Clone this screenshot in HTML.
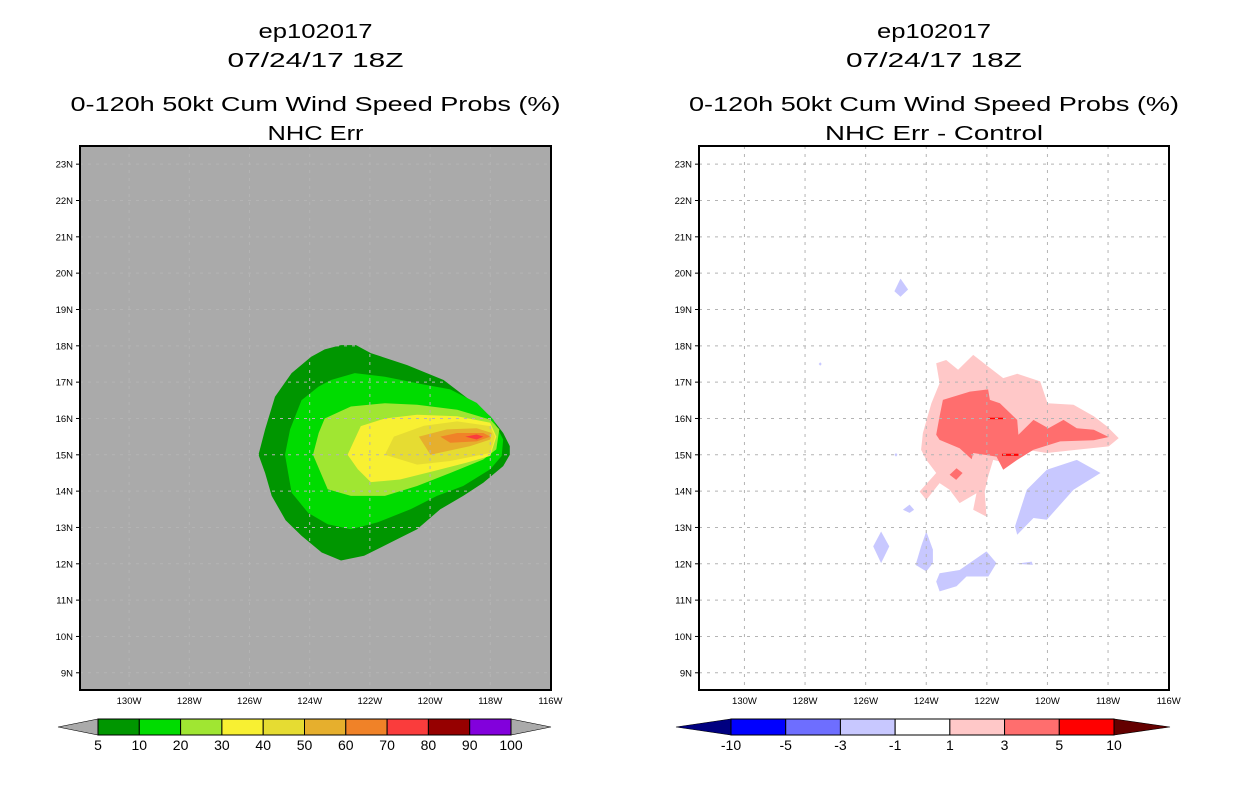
<!DOCTYPE html>
<html><head><meta charset="utf-8"><style>
html,body{margin:0;padding:0;background:#fff}
svg{display:block}
text{font-family:"Liberation Sans",sans-serif;fill:#000}
</style></head><body>
<svg id="fig" width="1236" height="800" viewBox="0 0 1236 800" xmlns="http://www.w3.org/2000/svg"></svg>
<script>
// ---- data ----
const lonTicks=[-130,-128,-126,-124,-122,-120,-118,-116];
const lonTickLabels=["130W","128W","126W","124W","122W","120W","118W","116W"];
const latTicks=[9,10,11,12,13,14,15,16,17,18,19,20,21,22,23];
const latTickLabels=["9N","10N","11N","12N","13N","14N","15N","16N","17N","18N","19N","20N","21N","22N","23N"];
const probLevels=["5","10","20","30","40","50","60","70","80","90","100"];
const probColors=["#009600","#00dc00","#a0e632","#f8f032","#e6dc32","#e6af2d","#f08228","#fa3c3c","#960000","#8200dc"];
const diffLevels=["-10","-5","-3","-1","1","3","5","10"];
const diffColors=["#0000ff","#6e6eff","#c8c8ff","#ffffff","#ffc8c8","#ff6e6e","#ff0000"];
// probability contour outlines [lon,lat]
const prob5=[[-122.96,18.02],[-122.46,18.02],[-121.97,17.8],[-120.76,17.47],[-119.55,17.06],[-118.67,16.5],[-118.0,16.06],[-117.57,15.6],[-117.35,15.24],[-117.35,15.0],[-117.57,14.69],[-118.23,14.23],[-118.9,13.87],[-119.66,13.5],[-120.43,12.95],[-121.3,12.59],[-122.19,12.22],[-122.96,12.09],[-123.6,12.31],[-124.27,12.77],[-124.8,13.2],[-125.26,13.87],[-125.48,14.5],[-125.7,15.0],[-125.48,15.7],[-125.15,16.6],[-124.6,17.25],[-123.95,17.7],[-123.5,17.9]];
const prob10=[[-123.29,17.06],[-122.5,17.25],[-121.5,17.15],[-120.43,16.97],[-119.33,16.8],[-118.45,16.43],[-117.9,15.97],[-117.57,15.42],[-117.62,14.97],[-118.0,14.6],[-118.9,14.14],[-119.77,13.87],[-120.65,13.5],[-121.75,13.14],[-122.63,12.95],[-123.4,13.09],[-124.05,13.4],[-124.6,13.96],[-124.82,15.0],[-124.65,15.7],[-124.27,16.5],[-123.7,16.88]];
const prob20=[[-123.5,16.0],[-122.63,16.33],[-121.5,16.42],[-120.43,16.38],[-119.1,16.24],[-118.0,15.97],[-117.7,15.7],[-117.8,15.15],[-118.23,14.87],[-119.33,14.5],[-120.43,14.14],[-121.5,13.87],[-122.63,13.87],[-123.4,14.05],[-123.89,15.0],[-123.7,15.6]];
const prob30=[[-122.3,15.79],[-121.5,16.0],[-120.43,16.1],[-119.1,16.06],[-118.0,15.88],[-117.8,15.5],[-118.0,14.97],[-118.8,14.78],[-119.9,14.55],[-121.0,14.32],[-121.97,14.25],[-122.4,14.6],[-122.74,15.0]];
const prob40=[[-121.2,15.5],[-120.2,15.8],[-119.1,15.92],[-118.0,15.79],[-117.84,15.5],[-118.0,15.05],[-119.33,14.83],[-120.43,14.73],[-121.5,15.0]];
const prob50=[[-120.37,15.5],[-119.44,15.7],[-118.45,15.73],[-117.95,15.6],[-118.0,15.42],[-118.67,15.24],[-119.99,15.0]];
const prob60=[[-119.66,15.5],[-119.1,15.6],[-118.23,15.6],[-118.0,15.5],[-118.45,15.37],[-119.33,15.33]];
const prob70=[[-118.83,15.5],[-118.45,15.56],[-118.23,15.5],[-118.45,15.42]];
// difference contour outlines
const diffPos1=[[-123.67,17.52],[-123.34,17.61],[-122.95,17.34],[-122.45,17.75],[-121.96,17.43],[-121.46,17.11],[-121.0,17.23],[-120.24,17.02],[-120.0,16.42],[-119.14,16.38],[-118.47,16.06],[-118.03,15.78],[-117.65,15.46],[-117.98,15.23],[-119.03,15.14],[-120.02,15.05],[-120.69,15.14],[-121.35,14.77],[-121.79,14.86],[-121.96,14.4],[-122.07,13.99],[-122.01,13.3],[-122.45,13.49],[-122.34,13.94],[-122.9,13.67],[-123.23,14.04],[-123.56,14.22],[-124.0,13.76],[-124.22,13.99],[-123.67,14.5],[-124.0,14.86],[-124.17,15.14],[-124.11,15.6],[-123.83,16.42],[-123.56,16.97]];
const diffPos3=[[-123.45,16.51],[-122.56,16.74],[-121.96,16.8],[-121.9,16.51],[-121.57,16.42],[-121.0,15.96],[-120.96,15.55],[-120.46,15.96],[-119.97,15.73],[-119.47,15.96],[-119.03,15.73],[-118.47,15.69],[-117.98,15.49],[-118.47,15.4],[-119.58,15.37],[-120.46,15.14],[-121.0,14.86],[-121.46,14.59],[-121.68,14.95],[-122.45,15.05],[-122.5,14.88],[-122.9,15.18],[-123.56,15.41],[-123.67,15.55],[-123.56,16.06]];
const diffPos3b=[[-123.0,14.63],[-122.8,14.5],[-123.01,14.31],[-123.23,14.45]];
const diffPos5a=[[-121.96,16.02],[-121.46,16.02],[-121.46,15.98],[-121.96,15.98]];
const diffPos5b=[[-121.5,15.03],[-120.96,15.03],[-120.96,14.97],[-121.5,14.97]];
const diffNeg1=[[-119.03,14.86],[-118.25,14.5],[-119.14,14.04],[-120.02,13.21],[-120.46,13.26],[-121.0,12.8],[-121.07,13.03],[-120.68,14.04],[-120.02,14.59]];
const diffNeg2=[[-125.49,12.89],[-125.22,12.48],[-125.49,12.02],[-125.75,12.48]];
const diffNeg3=[[-124.0,12.89],[-123.78,12.39],[-123.78,12.02],[-124.0,11.79],[-124.35,11.97],[-124.17,12.48]];
const diffNeg4=[[-123.56,11.74],[-122.9,11.83],[-122.01,12.34],[-121.68,12.02],[-121.95,11.65],[-122.67,11.65],[-123.0,11.38],[-123.56,11.24],[-123.67,11.51]];
const diffNeg5=[[-124.77,13.49],[-124.55,13.63],[-124.4,13.49],[-124.55,13.4]];
const diffNeg6=[[-121.02,12.0],[-120.52,12.06],[-120.48,11.97]];
const diffNeg7=[[-124.85,19.85],[-124.6,19.55],[-124.85,19.35],[-125.05,19.5]];
const diffNeg8=[[-127.5,17.55],[-127.45,17.5],[-127.5,17.45],[-127.55,17.5]];
const diffNeg9=[[-125.0,15.05],[-124.95,15.0],[-125.0,14.95],[-125.05,15.0]];

// ---- drawing ----
const NS="http://www.w3.org/2000/svg";
const svg=document.getElementById('fig');
function mk(tag,attrs,parent){const e=document.createElementNS(NS,tag);for(const k in attrs)e.setAttribute(k,attrs[k]);(parent||svg).appendChild(e);return e;}
function txt(s,x,y,size,anchor,parent,len){const t=mk('text',{x:x,y:y,'font-size':size,'text-anchor':anchor||'middle'},parent);if(len){t.setAttribute('textLength',len);t.setAttribute('lengthAdjust','spacingAndGlyphs');}t.textContent=s;return t;}

function panel(opt){
  const g=mk('g',{});
  
  
  const x0=opt.x0,x1=opt.x1,y0=146,y1=690;
  const lon0=opt.lon0,lonPx=opt.lonPx,lat0=23.5,latPx=36.33;
  const X=lon=>x0+(lon-lon0)*lonPx;
  const Y=lat=>y0+(lat0-lat)*latPx;
  const cx=(x0+x1)/2;
  const titles=[["ep102017",38,20,114],["07/24/17 18Z",67,20,176],["0-120h 50kt Cum Wind Speed Probs (%)",111,20,490],[opt.sub,140,20,opt.subLen]];
  titles.forEach((t,i)=>{const e=txt(t[0],cx,t[1],t[2],'middle',g,t[3]);});
  const bg=mk('rect',{x:x0,y:y0,width:x1-x0,height:y1-y0,fill:opt.bg},g);
  
  
  const clip=mk('clipPath',{id:opt.name+'-clip'},g);mk('rect',{x:x0,y:y0,width:x1-x0,height:y1-y0},clip);
  const pg=mk('g',{'clip-path':'url(#'+opt.name+'-clip)'},g);
  opt.shapes.forEach(s=>{
    const p=mk('polygon',{points:s.pts.map(q=>X(q[0]).toFixed(1)+','+Y(q[1]).toFixed(1)).join(' '),fill:s.c},pg);
    
    
  });
  // grid
  lonTicks.forEach(l=>{if(l>-131&&l<-116.5){const e=mk('line',{x1:X(l),x2:X(l),y1:y0,y2:y1,stroke:'#b4b4b4','stroke-width':1,'stroke-dasharray':'3,5'},pg);}});
  latTicks.forEach(l=>{const e=mk('line',{x1:x0,x2:x1,y1:Y(l),y2:Y(l),stroke:'#b4b4b4','stroke-width':1,'stroke-dasharray':'3,5'},pg);});
  const fr=mk('rect',{x:x0,y:y0,width:x1-x0,height:y1-y0,fill:'none',stroke:'#000','stroke-width':2},g);
  
  
  latTicks.forEach((l,i)=>{mk('line',{x1:x0-4,x2:x0,y1:Y(l),y2:Y(l),stroke:'#000'},g);const e=txt(latTickLabels[i],x0-7,Y(l)+3.5,9.5,'end',g);});
  lonTicks.forEach((l,i)=>{const e=txt(lonTickLabels[i],X(l),y1+14,9.5,'middle',g);});
  // colorbar
  const cb=mk('g',{},g);
  
  
  const n=opt.cbColors.length,bx0=opt.cbX0,bx1=opt.cbX1,by0=719,by1=735,w=(bx1-bx0)/n;
  mk('polygon',{points:`${opt.triL},${(by0+by1)/2} ${bx0},${by0} ${bx0},${by1}`,fill:opt.triCL,stroke:'#000','stroke-width':0.6},cb);
  mk('polygon',{points:`${opt.triR},${(by0+by1)/2} ${bx1},${by0} ${bx1},${by1}`,fill:opt.triCR,stroke:'#000','stroke-width':0.6},cb);
  opt.cbColors.forEach((c,i)=>{const r=mk('rect',{x:bx0+i*w,y:by0,width:w,height:by1-by0,fill:c,stroke:'#000','stroke-width':1},cb);});
  opt.cbLabels.forEach((s,i)=>{const e=txt(s,bx0+i*w,by1+15,14,'middle',cb);});
}

panel({name:'left-panel',x0:80,x1:551,lon0:-131.63,lonPx:30.1,bg:'#aaaaaa',sub:'NHC Err',subLen:96,
  shapes:[{pts:prob5,c:probColors[0],n:'contour-5'},{pts:prob10,c:probColors[1],n:'contour-10'},{pts:prob20,c:probColors[2],n:'contour-20'},{pts:prob30,c:probColors[3],n:'contour-30'},{pts:prob40,c:probColors[4],n:'contour-40'},{pts:prob50,c:probColors[5],n:'contour-50'},{pts:prob60,c:probColors[6],n:'contour-60'},{pts:prob70,c:probColors[7],n:'contour-70'}],
  cbColors:probColors,cbLabels:probLevels,cbX0:98,cbX1:511,triL:58,triR:551,triCL:'#aaaaaa',triCR:'#aaaaaa'});
panel({name:'right-panel',x0:699,x1:1169,lon0:-131.5,lonPx:30.3,bg:'#ffffff',sub:'NHC Err - Control',subLen:218,
  shapes:[{pts:diffPos1,c:diffColors[4],n:'contour-pos1'},{pts:diffPos3,c:diffColors[5],n:'contour-pos3'},{pts:diffPos3b,c:diffColors[5],n:'contour-pos3-small'},{pts:diffPos5a,c:diffColors[6],n:'contour-pos5-a'},{pts:diffPos5b,c:diffColors[6],n:'contour-pos5-b'},
    {pts:diffNeg1,c:diffColors[2],n:'contour-neg1-a'},{pts:diffNeg2,c:diffColors[2],n:'contour-neg1-b'},{pts:diffNeg3,c:diffColors[2],n:'contour-neg1-c'},{pts:diffNeg4,c:diffColors[2],n:'contour-neg1-d'},{pts:diffNeg5,c:diffColors[2],n:'contour-neg1-e'},{pts:diffNeg6,c:diffColors[2],n:'contour-neg1-f'},{pts:diffNeg7,c:diffColors[2],n:'contour-neg1-g'},{pts:diffNeg8,c:diffColors[2],n:'contour-neg1-h'},{pts:diffNeg9,c:diffColors[2],n:'contour-neg1-i'}],
  cbColors:diffColors,cbLabels:diffLevels,cbX0:731,cbX1:1114,triL:676,triR:1170,triCL:'#000080',triCR:'#640000'});
</script>
</body></html>
